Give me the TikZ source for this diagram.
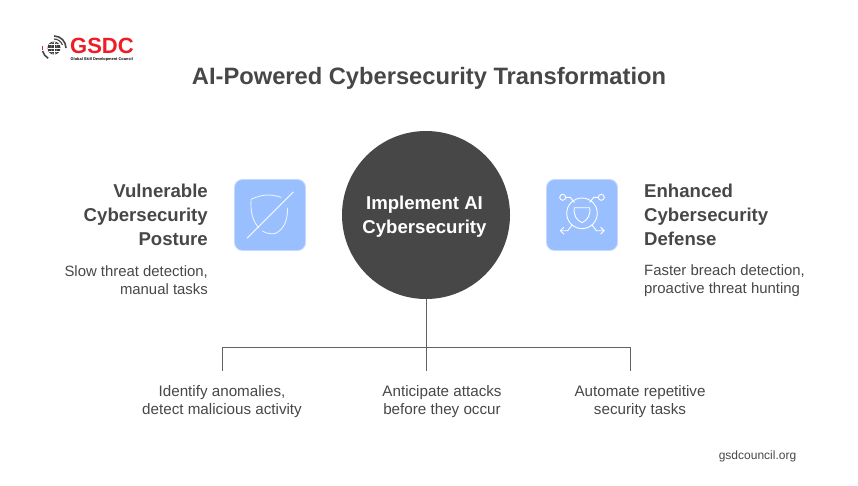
\documentclass[tikz,border=0pt]{standalone}
\usepackage{fontspec}
\setmainfont{Liberation Sans}
\usepackage{xcolor}
\usetikzlibrary{arrows.meta, positioning}
\definecolor{inkgrey}{HTML}{474747}
\definecolor{iconblue}{HTML}{9ABFFF}
\definecolor{iconedge}{HTML}{C4D9FF}
\definecolor{logored}{HTML}{EE1C25}

\begin{document}
\begin{tikzpicture}[x=1pt, y=-1pt,
    every node/.style={text=inkgrey, inner sep=0pt},
    headtext/.style={font=\bfseries\fontsize{18.6}{24}\selectfont, align=#1},
    subtext/.style={font=\fontsize{14.9}{18}\selectfont, align=#1},
    lowtext/.style={font=\fontsize{15.2}{18}\selectfont, align=center},
    iconbox/.style={draw=iconedge, fill=iconblue, line width=0.8pt, rounded corners=8pt, minimum size=71pt},
    iconline/.style={draw=white, line width=0.9pt, line cap=round, line join=round},
    bus/.style={draw=inkgrey!85, line width=0.9pt}]
    \useasboundingbox (0, 0) rectangle (858, 485);
    \node (title) at (429, 78.5) {\bfseries\fontsize{23.7}{28}\selectfont AI-Powered Cybersecurity Transformation};
    \node[circle, fill=inkgrey, minimum size=168pt] (hub) at (426, 215) {};
    \node[text=white, headtext=center] (hubtext) at (424.5, 217) {Implement AI\\Cybersecurity};
    \node[iconbox] (shieldbox) at (270, 215) {};
    \node[iconbox] (defensebox) at (582, 215) {};
    \node[headtext=right, anchor=east] (vuln) at (208, 215) {Vulnerable\\Cybersecurity\\Posture};
    \node[subtext=right, anchor=east] (slow) at (208, 280) {Slow threat detection,\\manual tasks};
    \node[headtext=left, anchor=west] (enh) at (644, 215) {Enhanced\\Cybersecurity\\Defense};
    \node[subtext=left, anchor=west] (fast) at (644, 281) {Faster breach detection,\\proactive threat hunting};
    \node[lowtext] (ident) at (222, 401.5) {Identify anomalies,\\detect malicious activity};
    \node[lowtext] (antic) at (442, 401.5) {Anticipate attacks\\before they occur};
    \node[lowtext] (auto) at (640, 401.5) {Automate repetitive\\security tasks};
    \node[font=\fontsize{12}{15}\selectfont] (site) at (757.5, 456.5) {gsdcouncil.org};
    \coordinate (busl) at (222, 371);
    \coordinate (busm) at (426, 371);
    \coordinate (busr) at (630, 371);
    \coordinate (joint) at (426, 347);
    \draw[bus] (hub.south) -- (busm);
    \draw[bus] (busl) -- (busl |- joint) -- (busr |- joint) -- (busr);
    \draw[iconline, draw=iconedge!35!white]
        (281, 197.3) .. controls (277, 196) and (273, 195) .. (268, 195)
        .. controls (262, 195) and (256, 197) .. (251, 199.3)
        .. controls (250.5, 211) and (252, 220) .. (258.5, 227.5)
        (262.5, 231) .. controls (266, 233) and (270, 234.5) .. (275, 233.5)
        .. controls (281, 231) and (288, 224) .. (287.5, 208);
    \draw[iconline] (247.3, 238) -- (293.3, 192);
    \node[circle, draw=white, line width=0.9pt, minimum size=30.6pt] (ring) at (582, 213.3) {};
    \node[circle, draw=white, line width=0.9pt, minimum size=6pt] (dotl) at (562.7, 197.3) {};
    \node[circle, draw=white, line width=0.9pt, minimum size=6pt] (dotr) at (601.3, 197.3) {};
    \draw[iconline] (574.3, 207.7) -- (589.7, 207.7) .. controls (590.5, 215) and (588, 220) .. (582, 222.7)
        .. controls (576, 220) and (573.5, 215) .. (574.3, 207.7) -- cycle;
    \draw[iconline] (dotl) -- (570.3, 197.3) -- (574.3, 202.3);
    \draw[iconline] (dotr) -- (593.7, 197.3) -- (589.7, 202.3);
    \draw[iconline, -{Straight Barb[length=3.5pt, width=7pt]}] (572, 225) -- (567.7, 230.7) -- (559.7, 230.7);
    \draw[iconline, -{Straight Barb[length=3.5pt, width=7pt]}] (592, 225) -- (596.3, 230.7) -- (604.7, 230.7);
    \node[circle, fill=inkgrey!80!black, minimum size=13pt] (globe) at (54, 48) {};
    \draw[white, line width=0.2pt] (47.5, 48) -- (60.5, 48) (54, 41.5) -- (54, 54.5) (48.5, 44.5) -- (59.5, 44.5) (48.5, 51.5) -- (59.5, 51.5);
    \draw[white, line width=0.2pt] (54, 48) ellipse (3pt and 6.5pt);
    \draw[inkgrey, line width=1.6pt] (54, 36) arc (90:0:12pt);
    \draw[inkgrey, line width=1.2pt] (54, 39) arc (90:20:9pt);
    \draw[logored, line width=1.6pt] (42.3, 46) arc (170:190:12pt);
    \draw[inkgrey, line width=1.6pt] (42.6, 51) arc (195:240:12pt);
    \node[text=logored, anchor=west] (logo) at (70, 45.5) {\bfseries\fontsize{22}{22}\selectfont GSDC};
    \node[text=black, anchor=west] (logosub) at (70.5, 59) {\bfseries\fontsize{3.9}{5}\selectfont Global Skill Development Council};
\end{tikzpicture}
\end{document}
